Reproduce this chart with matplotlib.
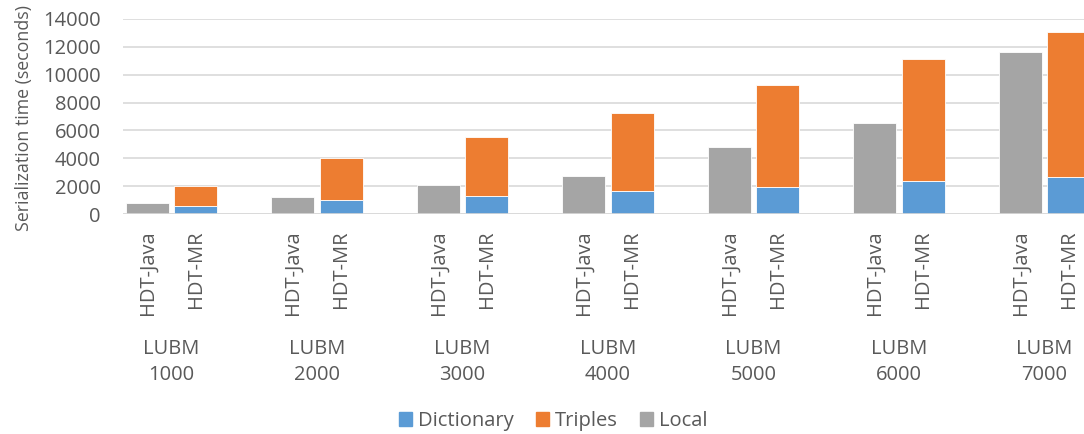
import matplotlib
matplotlib.use("Agg")
import matplotlib.pyplot as plt
import matplotlib.transforms as mtransforms
from matplotlib.patches import Patch

plt.rcParams['font.family'] = ['Open Sans', 'DejaVu Sans']

groups = ["LUBM\n1000", "LUBM\n2000", "LUBM\n3000", "LUBM\n4000",
          "LUBM\n5000", "LUBM\n6000", "LUBM\n7000"]
systems = ["HDT-Java", "HDT-MR"]
local = [770, 1200, 2080, 2730, 4830, 6510, 11610]          # HDT-Java
dictionary = [550, 1005, 1315, 1650, 1960, 2350, 2680]      # HDT-MR
triples = [1460, 2995, 4185, 5580, 7330, 8780, 10410]       # HDT-MR (stacked on dictionary)

c_blue = "#5B9BD5"
c_orange = "#ED7D31"
c_gray = "#A5A5A5"
txt = "#595959"
fs = 14.5

W, H = 1084, 434
fig = plt.figure(figsize=(W / 100, H / 100), dpi=100)
slot = 48.5
left_px = 123
ax = fig.add_axes([left_px / W, (H - 214) / H, (W - left_px) / W, (214 - 19) / H])

n = len(groups)
java_x = [3 * g for g in range(n)]
mr_x = [3 * g + 1 for g in range(n)]
bw = 43 / slot

ax.bar(java_x, local, width=bw, color=c_gray, edgecolor="white", linewidth=0.6, zorder=3)
ax.bar(mr_x, dictionary, width=bw, color=c_blue, edgecolor="white", linewidth=0.6, zorder=3)
ax.bar(mr_x, triples, width=bw, bottom=dictionary, color=c_orange, edgecolor="white", linewidth=0.6, zorder=3)

ax.set_xlim(-0.5, (W - left_px) / slot - 0.5)
ax.set_ylim(0, 14000)
ax.set_yticks(range(0, 14001, 2000))
ax.tick_params(axis='y', length=0, pad=16, labelsize=fs, labelcolor=txt)
ax.yaxis.grid(True, color="#D9D9D9", linewidth=1.2, zorder=0)
for s in ax.spines.values():
    s.set_visible(False)
ax.axhline(0, color="#D9D9D9", linewidth=1.2, zorder=4)

xt = []
xl = []
for g in range(n):
    xt += [java_x[g], mr_x[g]]
    xl += systems
ax.set_xticks(xt)
ax.set_xticklabels(xl, rotation=90, va="top", ha="center", fontsize=fs, color=txt)
ax.tick_params(axis='x', length=0, pad=12)

trans = mtransforms.blended_transform_factory(ax.transData, fig.transFigure)
for g in range(n):
    xc = (java_x[g] + mr_x[g]) / 2
    ax.text(xc, 1 - 362 / H, groups[g], transform=trans, ha="center", va="center",
            fontsize=fs, color=txt, linespacing=1.45)

fig.text(24 / W, 1 - 118 / H, "Serialization time (seconds)", rotation=90,
         ha="center", va="center", fontsize=12.8, color=txt)

handles = [Patch(color=c_blue, label="Dictionary"),
           Patch(color=c_orange, label="Triples"),
           Patch(color=c_gray, label="Local")]
fig.legend(handles=handles, loc="center", bbox_to_anchor=(553 / W, 1 - 421 / H), ncol=3,
           frameon=False, fontsize=fs, labelcolor=txt, handlelength=0.65, handleheight=0.65,
           handletextpad=0.3, columnspacing=1.1)

fig.savefig("out.png", dpi=100)
